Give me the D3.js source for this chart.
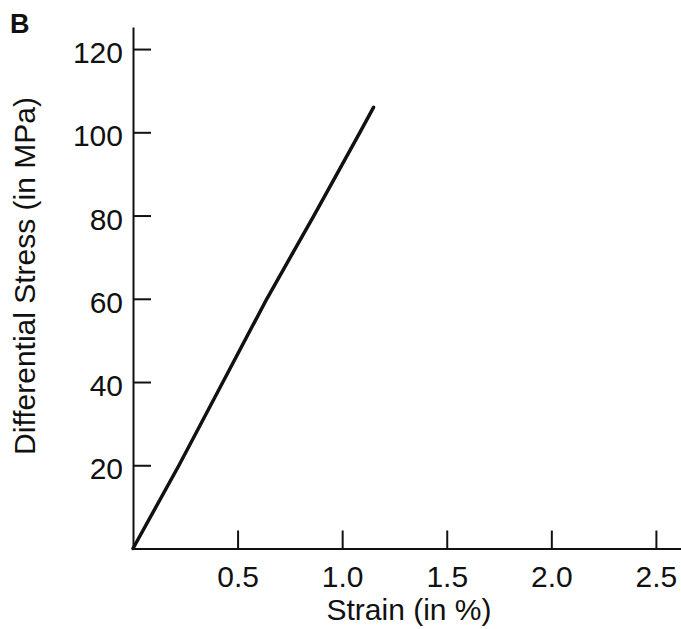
<!DOCTYPE html>
<html>
<head>
<meta charset="utf-8">
<script src="https://cdn.jsdelivr.net/npm/d3@7"></script>
<style>
  body { margin: 0; background: #fff; }
  text { font-family: "Liberation Sans", Arial, Helvetica, sans-serif; fill: #111; }
</style>
</head>
<body>
<div id="chart"></div>
<script>
const width = 681
const height = 629

// strain (%) vs differential stress (MPa)
const strain = [0, 0.22, 0.43, 0.64, 0.865, 1.085, 1.15]
const stress = [0, 20, 40, 60, 80, 100, 106]

const xTicks = [0.5, 1.0, 1.5, 2.0, 2.5]
const yTicks = [20, 40, 60, 80, 100, 120]

const svg = d3.select("#chart").append("svg")
    .attr("width", width)
    .attr("height", height)

const x = d3.scaleLinear().domain([0, 2.62]).range([133, 681])
const y = d3.scaleLinear().domain([0, 125.3]).range([548.5, 27])

// x axis, ticks pointing inward
const xAxis = svg.append("g")
    .attr("transform", `translate(0,${y(0)})`)
    .call(d3.axisBottom(x).tickValues(xTicks).tickFormat(d3.format(".1f"))
        .tickSizeInner(-18).tickSizeOuter(0).tickPadding(17))

// y axis
const yAxis = svg.append("g")
    .attr("transform", `translate(${x(0)},0)`)
    .call(d3.axisLeft(y).tickValues(yTicks)
        .tickSizeInner(-18).tickSizeOuter(0).tickPadding(10))

svg.selectAll(".domain, .tick line")
    .attr("stroke", "#111")
    .attr("stroke-width", 2)

svg.selectAll(".tick text")
    .attr("font-size", 30)
    .attr("font-family", '"Liberation Sans", Arial, sans-serif')
    .attr("fill", "#111")

yAxis.selectAll(".tick text").attr("dy", "0.45em")

// stress-strain line
const line = d3.line()
    .x((d, i) => x(strain[i]))
    .y(d => y(d))

svg.append("path")
    .datum(stress)
    .attr("d", line)
    .attr("fill", "none")
    .attr("stroke", "#111")
    .attr("stroke-width", 3.5)
    .attr("stroke-linecap", "round")
    .attr("stroke-linejoin", "round")

// axis titles
svg.append("text")
    .attr("x", 409)
    .attr("y", 620)
    .attr("text-anchor", "middle")
    .attr("font-size", 30)
    .text("Strain (in %)")

svg.append("text")
    .attr("transform", "translate(35,276) rotate(-90)")
    .attr("text-anchor", "middle")
    .attr("font-size", 30)
    .text("Differential Stress (in MPa)")

// panel letter
svg.append("text")
    .attr("x", 10)
    .attr("y", 33)
    .attr("font-size", 27)
    .attr("font-weight", "bold")
    .text("B")
</script>
</body>
</html>
